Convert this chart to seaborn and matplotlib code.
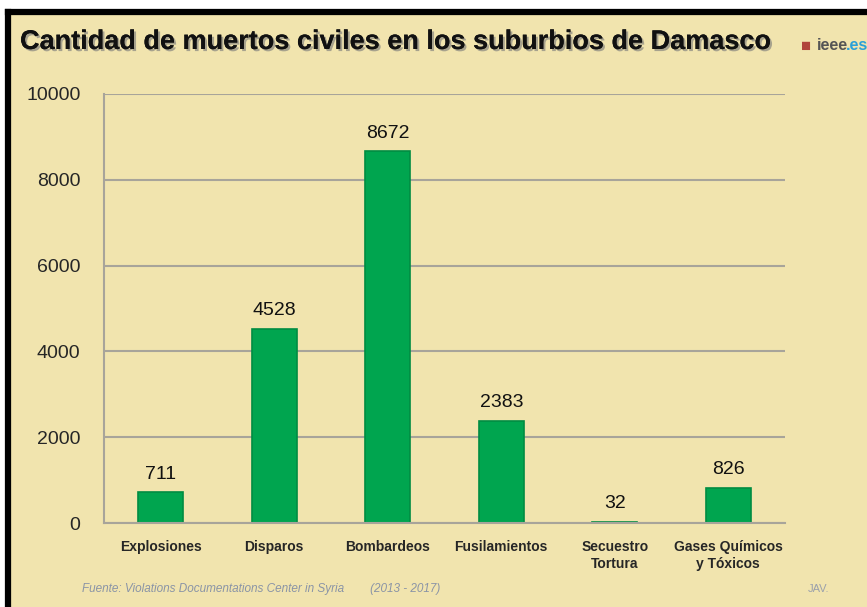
import matplotlib
matplotlib.use("Agg")
import matplotlib.pyplot as plt
import matplotlib.patheffects as pe
import seaborn as sns
import pandas as pd

# data
categorias = ["Explosiones", "Disparos", "Bombardeos", "Fusilamientos",
              "Secuestro\nTortura", "Gases Químicos\ny Tóxicos"]
muertos = [711, 4528, 8672, 2383, 32, 826]
y_ticks = [0, 2000, 4000, 6000, 8000, 10000]

df = pd.DataFrame({"categoria": categorias, "muertos": muertos})

bg = "#F1E4AE"
verde = "#00A54F"

sns.set_style("white")
plt.rcParams["font.family"] = ["Liberation Sans", "DejaVu Sans"]

W, H = 867, 607
fig = plt.figure(figsize=(W / 100, H / 100), dpi=100)
fig.patch.set_facecolor("white")

# beige panel with black frame (top and left)
panel = fig.add_axes([8 / W, 0, 1 - 8 / W, 1 - 12 / H])
panel.set_facecolor(bg)
panel.set_xticks([])
panel.set_yticks([])
for s in ["right", "bottom"]:
    panel.spines[s].set_visible(False)
for s in ["top", "left"]:
    panel.spines[s].set_linewidth(4.5)
    panel.spines[s].set_color("black")

# chart axes
x0, x1 = 104, 785
y_top, y_bot = 94, 523
ax = fig.add_axes([x0 / W, 1 - y_bot / H, (x1 - x0) / W, (y_bot - y_top) / H])
ax.set_facecolor("none")

sns.barplot(data=df, x="categoria", y="muertos", color=verde, width=0.4,
            edgecolor="#008C42", linewidth=1.2, saturation=1, ax=ax)

ax.set_ylim(0, 10000)
ax.set_yticks(y_ticks)
ax.set_yticklabels([str(t) for t in y_ticks], fontsize=14)
ax.yaxis.grid(True, color="#A8A49A", linewidth=1.5)
ax.set_axisbelow(True)
ax.set_xlabel("")
ax.set_ylabel("")
ax.tick_params(axis="y", length=0, pad=17)
ax.tick_params(axis="x", length=0, pad=12)
for s in ["top", "right"]:
    ax.spines[s].set_visible(False)
ax.spines["left"].set_color("#A8A49A")
ax.spines["left"].set_linewidth(1.5)
ax.spines["bottom"].set_color("#A8A49A")
ax.spines["bottom"].set_linewidth(1.5)

ax.set_xticks(range(len(categorias)))
ax.set_xticklabels(categorias, fontsize=10, fontweight="bold",
                   linespacing=1.3, va="top")

for i, v in enumerate(muertos):
    ax.text(i, v + 220, str(v), ha="center", va="bottom", fontsize=14, color="#111111")

# title with shadow
fig.text(20 / W, 1 - 42 / H, "Cantidad de muertos civiles en los suburbios de Damasco",
         fontsize=19.5, fontweight="bold", color="#111111", va="center", ha="left",
         path_effects=[pe.withSimplePatchShadow(offset=(1.5, -1.5), shadow_rgbFace="#777777", alpha=0.6),
                       pe.Normal()])

# logo
fig.text(801 / W, 1 - 46 / H, "\u25A0", fontsize=12, color="#B0443A", va="center", ha="left")
fig.text(817 / W, 1 - 45 / H, "ieee", fontsize=11.5, fontweight="bold", color="#555555",
         va="center", ha="left")
fig.text(846 / W, 1 - 45 / H, ".es", fontsize=11.5, fontweight="bold", color="#2A9FD8",
         va="center", ha="left")

# footer
fig.text(82 / W, 1 - 589 / H,
         "Fuente: Violations Documentations Center in Syria        (2013 - 2017)",
         fontsize=8.5, style="italic", color="#8A94A6", va="center", ha="left")
fig.text(808 / W, 1 - 589 / H, "JAV.", fontsize=8, color="#9AA0AC", va="center", ha="left")

fig.savefig("out.png", dpi=100, facecolor=fig.get_facecolor())
